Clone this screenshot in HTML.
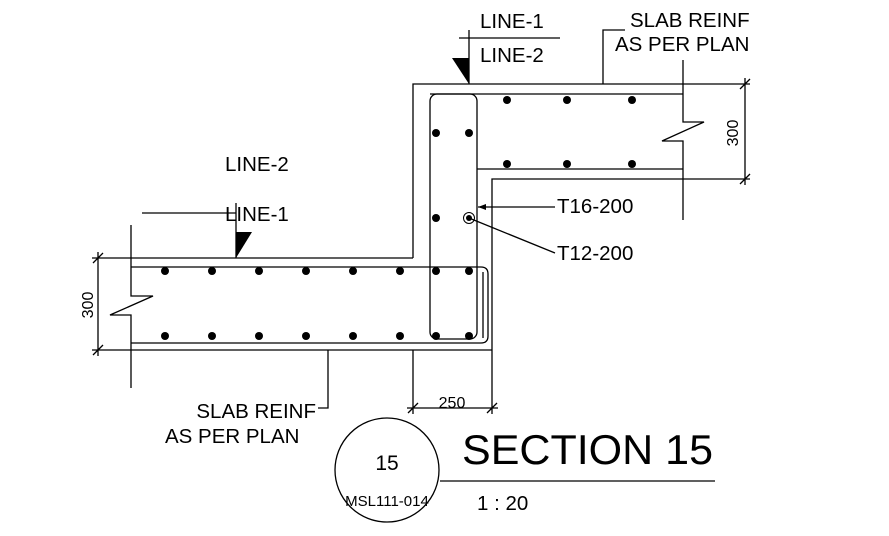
<!DOCTYPE html><html><head><style>body{margin:0;background:#fff}svg{display:block}text{font-family:"Liberation Sans",sans-serif;fill:#000}</style></head><body>
<svg width="889" height="536" viewBox="0 0 889 536" xmlns="http://www.w3.org/2000/svg">
<g stroke="#000" stroke-width="1.3" fill="none">
<path d="M413 258 V84 H750"/>
<path d="M492 350 V179 H750"/>
<path d="M683 60 V122 L704 122 L662 141 H683 V220"/>
<path d="M430 94 H683 M477 169 H683"/>
<rect x="430" y="94" width="47" height="245" rx="7"/>
<path d="M131 258 H413"/>
<path d="M131 350 H492"/>
<path d="M131 225 V296 L153 296 L110 315 H131 V388"/>
<path d="M131 267 H481 Q488 267 488 274 V336 Q488 343 481 343 H131"/>
<path d="M483 272 V338"/>
<path d="M98 252 V356 M92 258 H131 M92 350 H131 M93 263 L103 253 M93 355 L103 345"/>
<path d="M745 78 V185 M740 89 L750 79 M740 184 L750 174"/>
<path d="M413 350 V414 M492 350 V414 M407 408 H498 M408 413 L418 403 M487 413 L497 403"/>
<path d="M603 84 V30 H625"/>
<path d="M328 350 V408 H318"/>
<path d="M469 30 V84 M459 38 H560"/>
<path d="M142 213 H236 M236 203 V258"/>
<path d="M478 207 H555 M469 218 L555 253"/>
<path d="M440 481 H715"/>
</g>
<g fill="#000">
<path d="M452 58 H469 V84 Z"/>
<path d="M236 232 H252 L236 258 Z"/>
<path d="M478 207 L486 204 L486 210 Z"/>
<circle cx="507" cy="100" r="4"/><circle cx="567" cy="100" r="4"/><circle cx="632" cy="100" r="4"/>
<circle cx="507" cy="164" r="4"/><circle cx="567" cy="164" r="4"/><circle cx="632" cy="164" r="4"/>
<circle cx="436" cy="133" r="4"/><circle cx="469" cy="133" r="4"/>
<circle cx="436" cy="218" r="4"/><circle cx="469" cy="218" r="3"/>
<g id="r"><circle cx="165" cy="271" r="4"/><circle cx="212" cy="271" r="4"/><circle cx="259" cy="271" r="4"/><circle cx="306" cy="271" r="4"/><circle cx="353" cy="271" r="4"/><circle cx="400" cy="271" r="4"/><circle cx="436" cy="271" r="4"/><circle cx="469" cy="271" r="4"/></g>
<use href="#r" y="65"/>
</g>
<circle cx="469" cy="218" r="5.5" fill="none" stroke="#000" stroke-width="1"/>
<circle cx="387" cy="470" r="52" fill="none" stroke="#000" stroke-width="1.3"/>
<g font-size="20.5">
<text x="480" y="28">LINE-1</text><text x="480" y="62">LINE-2</text>
<text x="630" y="27">SLAB REINF</text><text x="615" y="51">AS PER PLAN</text>
<text x="225" y="171">LINE-2</text><text x="225" y="221">LINE-1</text>
<text x="557" y="213">T16-200</text><text x="557" y="260">T12-200</text>
<text x="316" y="418" text-anchor="end">SLAB REINF</text><text x="165" y="443">AS PER PLAN</text>
<text x="387" y="470" text-anchor="middle" font-size="21">15</text>
<text x="477" y="510">1 : 20</text>
</g>
<g font-size="16">
<text x="452" y="408" text-anchor="middle">250</text>
<text transform="translate(93 305) rotate(-90)" text-anchor="middle">300</text>
<text transform="translate(738 133) rotate(-90)" text-anchor="middle">300</text>
<text x="387" y="506" text-anchor="middle" font-size="15">MSL111-014</text>
</g>
<text x="462" y="464" font-size="42" textLength="251" lengthAdjust="spacingAndGlyphs">SECTION 15</text>
</svg></body></html>
